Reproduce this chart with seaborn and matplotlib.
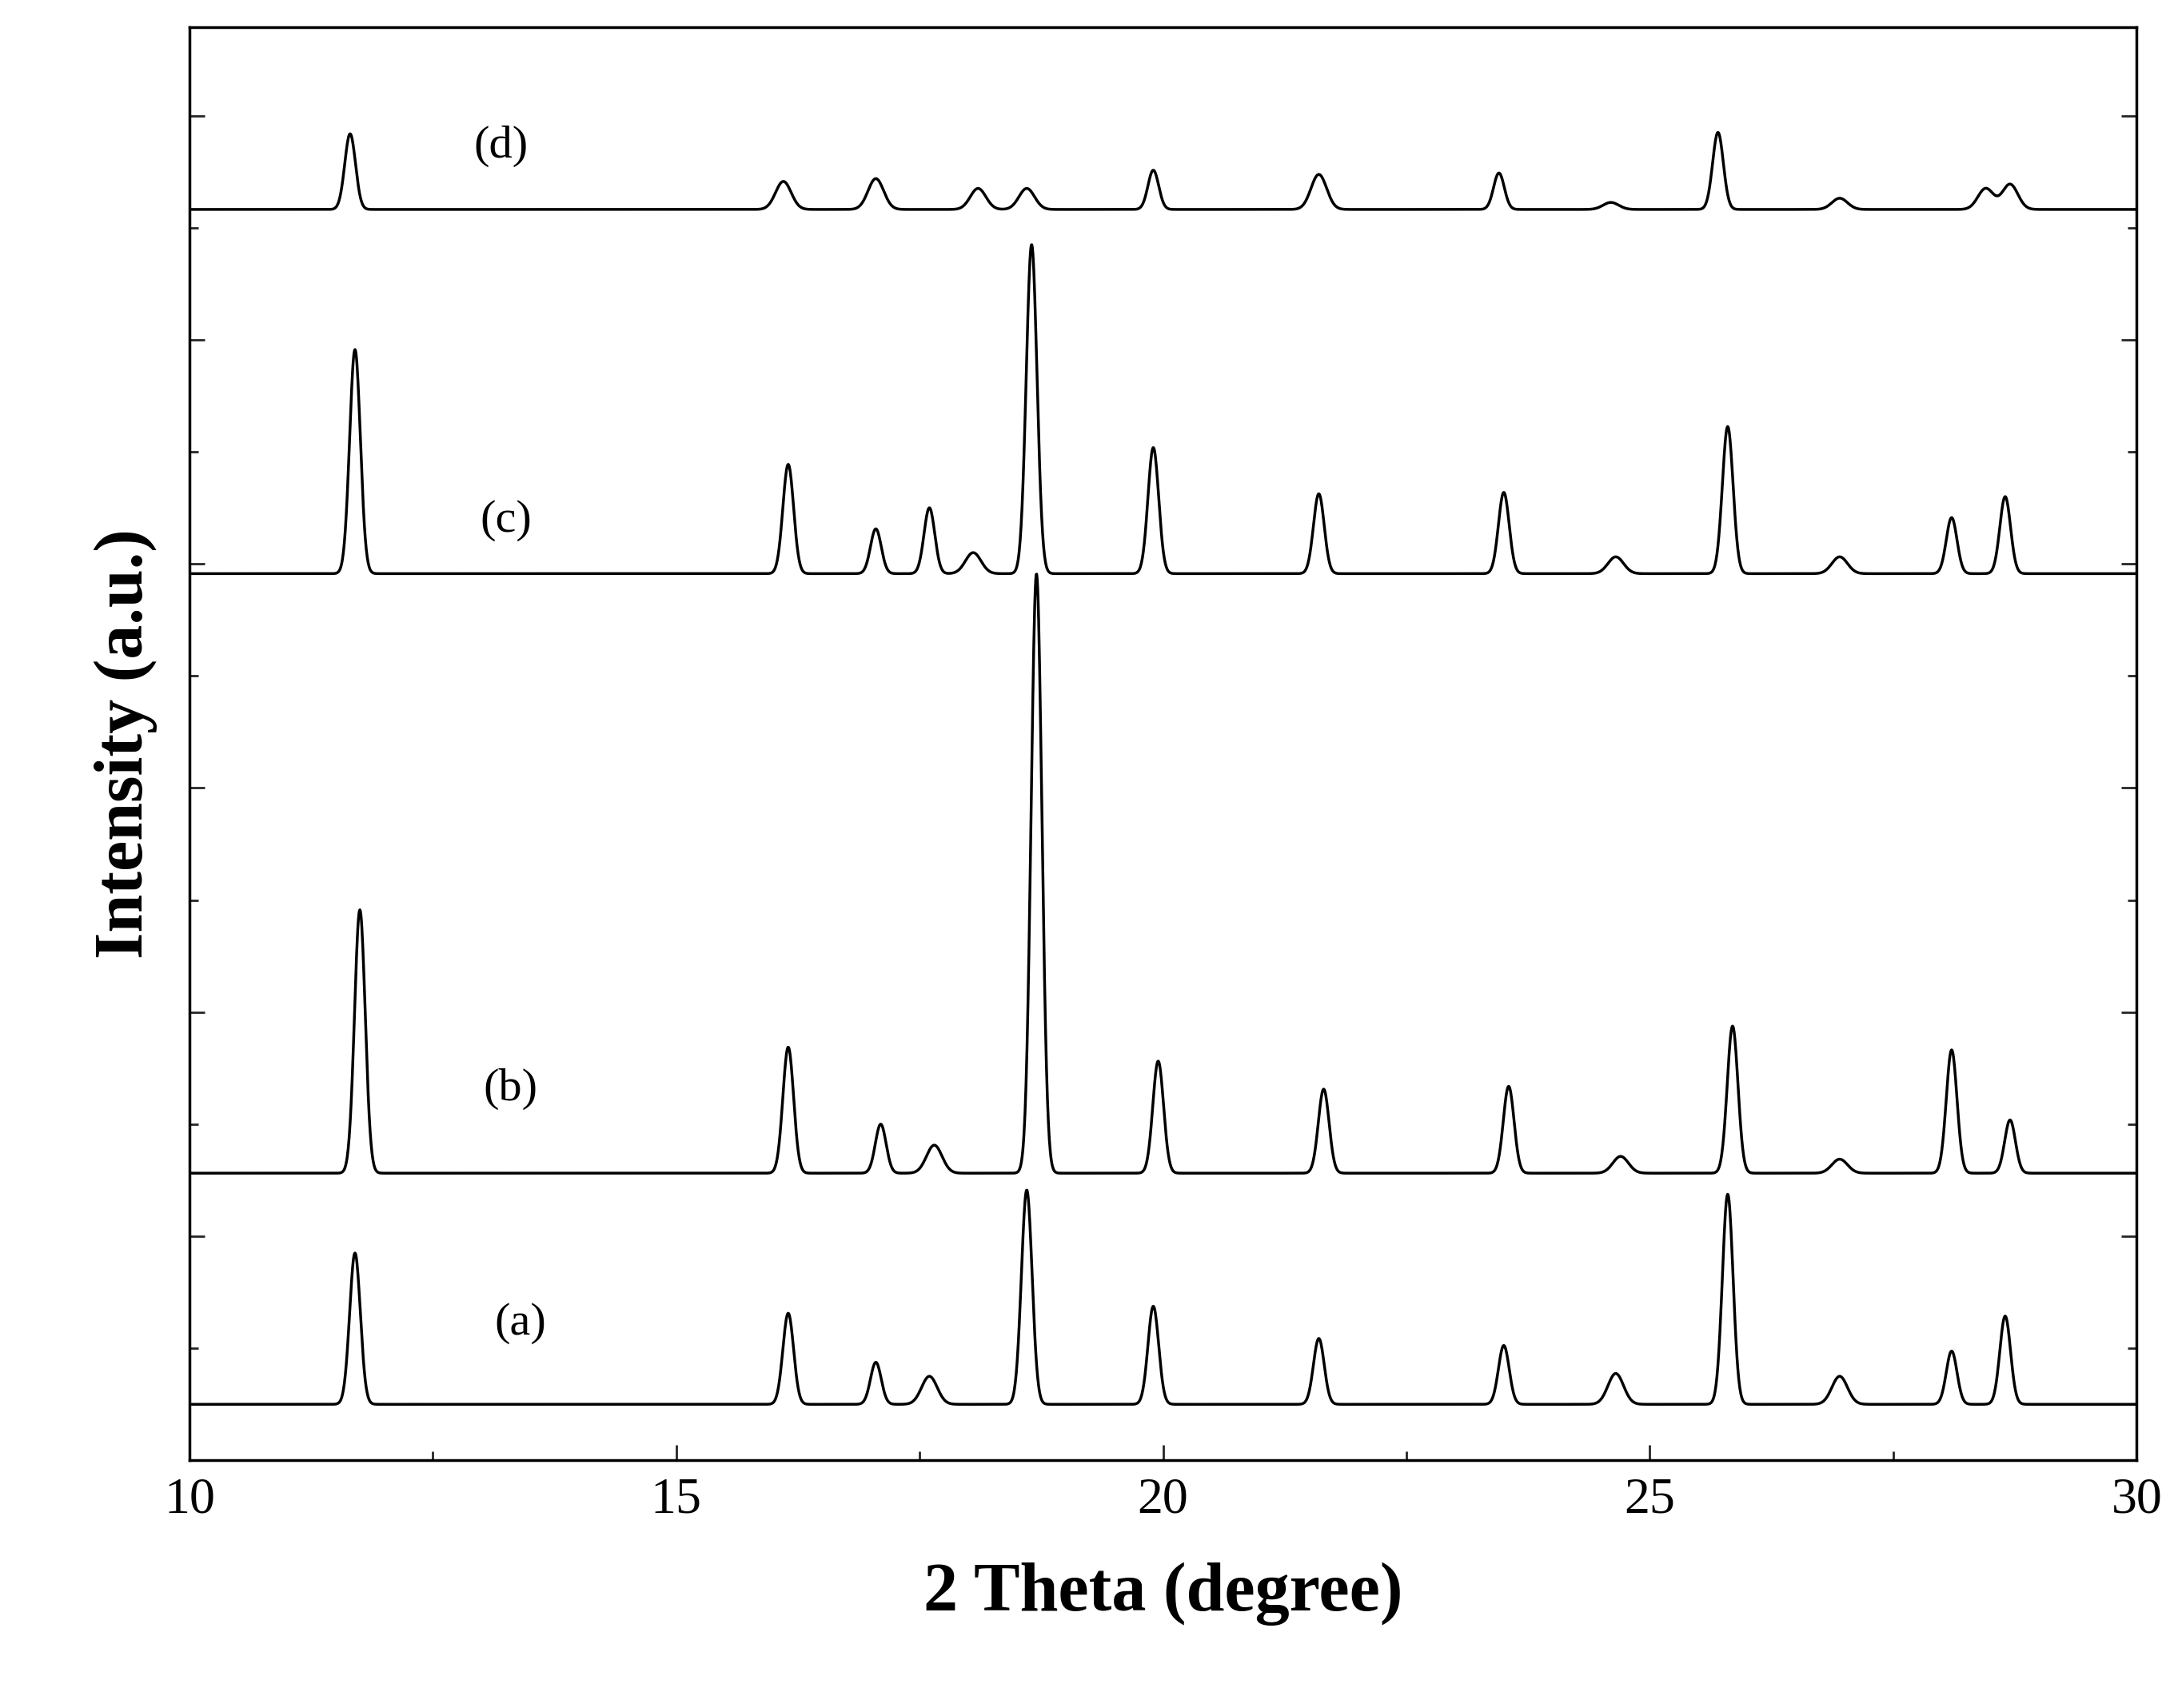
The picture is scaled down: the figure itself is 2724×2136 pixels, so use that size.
import numpy as np
import pandas as pd
import seaborn as sns
import matplotlib.pyplot as plt
from matplotlib.ticker import MultipleLocator

# peak positions (2 theta) and heights for each pattern, plus baseline offsets
pos_a = [11.7, 16.15, 17.05, 17.6, 18.6, 19.9, 21.6, 23.5, 24.65, 25.8, 26.95, 28.1, 28.65]
hgt_a = [108, 65, 30, 20, 153, 70, 47, 42, 22, 150, 20, 38, 63]
pos_b = [11.75, 16.15, 17.1, 17.65, 18.7, 19.95, 21.65, 23.55, 24.7, 25.85, 26.95, 28.1, 28.7]
hgt_b = [188, 90, 35, 20, 428, 80, 60, 62, 12, 105, 10, 88, 38]
pos_c = [11.7, 16.15, 17.05, 17.6, 18.05, 18.65, 19.9, 21.6, 23.5, 24.65, 25.8, 26.95, 28.1, 28.65]
hgt_c = [160, 78, 32, 47, 15, 235, 90, 57, 58, 12, 105, 12, 40, 55]
pos_d = [11.65, 16.1, 17.05, 18.1, 18.6, 19.9, 21.6, 23.45, 24.6, 25.7, 26.95, 28.45, 28.7]
hgt_d = [54, 20, 22, 15, 15, 28, 25, 26, 5, 55, 8, 15, 18]
baselines = {"(a)": 40, "(b)": 205, "(c)": 633, "(d)": 893}
label_x = {"(a)": 13.4, "(b)": 13.3, "(c)": 13.25, "(d)": 13.2}
label_y = {"(a)": 98, "(b)": 265, "(c)": 671, "(d)": 938}

peaks = {"(a)": (pos_a, hgt_a), "(b)": (pos_b, hgt_b), "(c)": (pos_c, hgt_c), "(d)": (pos_d, hgt_d)}
theta = np.linspace(10, 30, 4000)

rows = []
for name, (ps, hs) in peaks.items():
    y = np.full_like(theta, baselines[name], dtype=float)
    for p, h in zip(ps, hs):
        w = 0.055 if h > 25 else 0.08
        y += h * np.exp(-0.5 * ((theta - p) / w) ** 2)
    rows.append(pd.DataFrame({"theta": theta, "I": y, "s": name}))
df = pd.concat(rows)

sns.set_theme(style="white")
plt.rcParams['font.family'] = ['Liberation Serif', 'DejaVu Serif']

fig, ax = plt.subplots(figsize=(27.24, 21.36), dpi=100)
fig.subplots_adjust(left=0.087, right=0.981, top=0.984, bottom=0.145)
sns.lineplot(data=df, x="theta", y="I", units="s", estimator=None,
             color="black", lw=2.5, ax=ax)
for name in peaks:
    ax.text(label_x[name], label_y[name], name, fontsize=42, ha="center", va="center",
            color="black")

ax.set_xlim(10, 30)
ax.set_ylim(0, 1023)
ax.xaxis.set_major_locator(MultipleLocator(5))
ax.xaxis.set_minor_locator(MultipleLocator(2.5))
ax.yaxis.set_major_locator(MultipleLocator(160))
ax.yaxis.set_minor_locator(MultipleLocator(80))
ax.set_yticklabels([])
ax.tick_params(which="both", direction="in", left=True, right=True, bottom=True, top=False,
               labelsize=46, width=2, labelcolor="black")
ax.tick_params(which="major", length=14)
ax.tick_params(which="minor", length=8)
ax.tick_params(axis="x", which="major", pad=15)
for s in ax.spines.values():
    s.set_color("black")
    s.set_linewidth(2.5)
ax.set_xlabel("2 Theta (degree)", fontsize=62, fontweight="bold", labelpad=35, color="black")
ax.set_ylabel("Intensity (a.u.)", fontsize=62, fontweight="bold", labelpad=25, color="black")
fig.savefig("out.png", dpi=100)
